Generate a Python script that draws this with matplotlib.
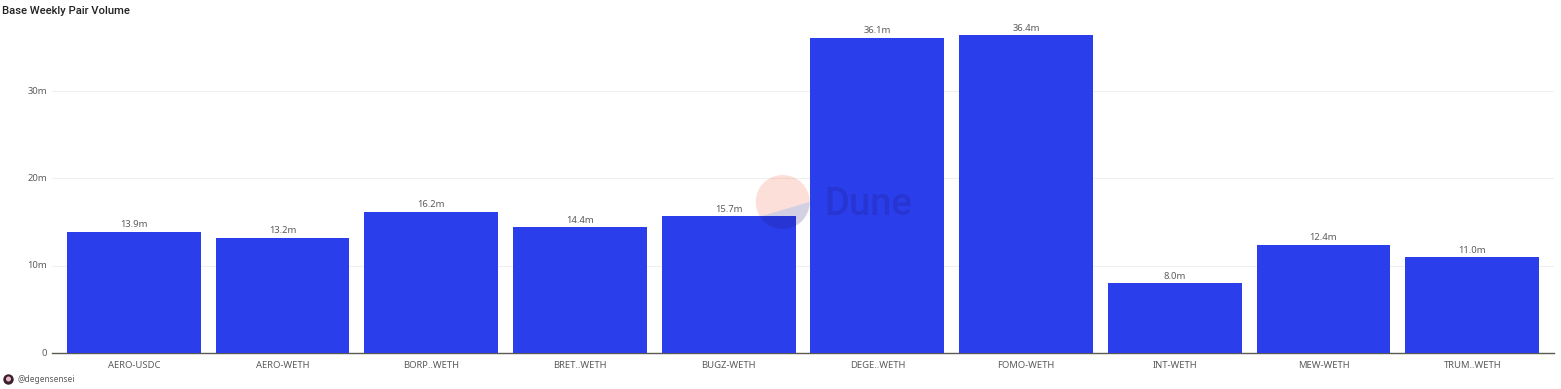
import matplotlib
matplotlib.use("Agg")
import matplotlib.pyplot as plt
from matplotlib.patches import Circle, Polygon
from matplotlib.transforms import ScaledTranslation

pairs = ["AERO-USDC", "AERO-WETH", "BORP..WETH", "BRET..WETH", "BUGZ-WETH",
         "DEGE..WETH", "FOMO-WETH", "INT-WETH", "MEW-WETH", "TRUM..WETH"]
volume = [13.9, 13.2, 16.2, 14.4, 15.7, 36.1, 36.4, 8.0, 12.4, 11.0]
y_ticks = [0, 10, 20, 30]
y_labels = ["0", "10m", "20m", "30m"]

W, H = 1561, 389
BAR_COLOR = "#2a3eeb"
TEXT_COLOR = "#5c5c5c"

plt.rcParams["font.family"] = ["Noto Sans", "DejaVu Sans"]

fig = plt.figure(figsize=(W / 100, H / 100), dpi=100)
ax = fig.add_axes([52 / W, 1 - 353.1 / H, 1502 / W, 335.5 / H])

positions = list(range(len(pairs)))
bars = ax.bar(positions, volume, width=0.9, color=BAR_COLOR, zorder=2)
for bar, value in zip(bars, volume):
    ax.annotate(f"{value:.1f}m", (bar.get_x() + bar.get_width() / 2, value),
                xytext=(0, 2.5), textcoords="offset pixels", ha="center", va="bottom",
                fontsize=6.8, color=TEXT_COLOR)

ax.set_xlim(-0.55, 9.55)
ax.set_ylim(0, 38.43)
ax.set_xticks(positions, pairs)
ax.set_yticks(y_ticks, y_labels)
ax.tick_params(axis="x", length=0, pad=5.5, labelsize=6.8, labelcolor=TEXT_COLOR)
ax.tick_params(axis="y", length=0, pad=3.5, labelsize=6.8, labelcolor=TEXT_COLOR)
# y labels sit a touch above their gridlines
for label in ax.get_yticklabels():
    label.set_transform(label.get_transform() + ScaledTranslation(0, 1 / 100, fig.dpi_scale_trans))
ax.grid(axis="y", color="#f0f0f0", linewidth=0.8, zorder=0)
for side in ["top", "right", "left"]:
    ax.spines[side].set_visible(False)
ax.spines["bottom"].set_color("#5a5a50")
ax.spines["bottom"].set_linewidth(1)
ax.spines["bottom"].set_zorder(1)

# title and footer
fig.text(2 / W, 1 - 10.5 / H, "Base Weekly Pair Volume", family="Roboto", fontsize=8.1,
         fontweight="medium", color="#222222", va="center", ha="left")
fig.text(17 / W, 1 - 379 / H, "@degensensei", fontsize=6.0, color=TEXT_COLOR, va="center", ha="left")

def px(x, y):
    return (x / 100, (H - y) / 100)

# little avatar next to the handle
fig.add_artist(Circle(px(8.5, 379.5), 0.045, color="#3a1f2e", transform=fig.dpi_scale_trans, zorder=5))
fig.add_artist(Circle(px(8.5, 379), 0.018, color="#e8b8c0", transform=fig.dpi_scale_trans, zorder=6))

# Dune watermark
logo = Circle(px(782.7, 202), 0.27, facecolor="#f4603e", alpha=0.2, edgecolor="none",
              transform=fig.dpi_scale_trans, zorder=5)
fig.add_artist(logo)
# pink only above the split line
logo.set_clip_path(Polygon([px(755, 150), px(811, 150), px(811, 201.5), px(755, 218)], closed=True,
                           transform=fig.dpi_scale_trans))
lower = Circle(px(782.7, 202), 0.27, facecolor="#1e1870", alpha=0.2, edgecolor="none",
               transform=fig.dpi_scale_trans, zorder=6)
fig.add_artist(lower)
lower.set_clip_path(Polygon([px(811, 201.5), px(755, 218), px(755, 232), px(811, 232)], closed=True,
                            transform=fig.dpi_scale_trans))
fig.text(824 / W, 1 - 204.5 / H, "Dune", family="Roboto", fontsize=27.5, fontweight="medium",
         color="#1e1870", alpha=0.2, va="center", ha="left", zorder=7)

fig.savefig("out.png", dpi=100)
